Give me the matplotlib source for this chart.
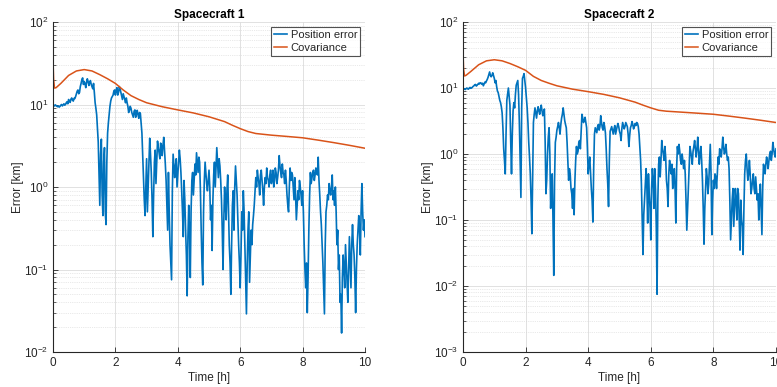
import numpy as np
import matplotlib
matplotlib.use("Agg")
import matplotlib.pyplot as plt
from matplotlib.ticker import LogLocator, NullFormatter, MultipleLocator

plt.rcParams['font.family'] = ['Liberation Sans', 'DejaVu Sans']
plt.rcParams['mathtext.fontset'] = 'custom'
plt.rcParams['mathtext.rm'] = 'Liberation Sans'
plt.rcParams['mathtext.it'] = 'Liberation Sans:italic'
plt.rcParams['mathtext.bf'] = 'Liberation Sans:bold'

# ---------------- data ----------------
# samples every 0.025 h: "grid" values at even samples, "mid" values in between
time_h = [round(0.025 * i, 3) for i in range(401)]

sc1_err_grid = [
    10.0, 9.6, 9.7, 9.4, 9.3, 9.8, 9.6, 10.2, 10.0, 10.8,
    11.5, 10.6, 12.0, 11.0, 11.8, 13.5, 15.0, 14.0, 18.0, 21.0,
    19.0, 16.0, 20.5, 17.0, 19.5, 16.5, 18.0, 10.5, 7.5, 3.5,
    0.6, 3.8, 0.45, 3.0, 0.35, 4.5, 7.5, 11.0, 12.5, 14.5,
    13.0, 16.0, 14.0, 15.5, 12.5, 13.5, 11.5, 12.0, 9.5, 8.5,
    9.0, 7.5, 8.3, 7.0, 8.5, 6.8, 7.8, 4.5, 1.3, 0.45,
    2.2, 1.0, 3.9, 1.5, 0.25, 2.0, 1.1, 3.6, 2.6, 3.4,
    2.4, 4.0, 1.9, 0.6, 1.5, 0.2, 0.075, 2.5, 1.3, 2.2,
    1.4, 2.8, 1.5, 0.5, 1.2, 0.3, 0.048, 0.6, 0.08, 1.2,
    0.8, 1.9, 2.6, 1.5, 2.0, 0.3, 0.065, 1.2, 1.5, 0.9,
    1.6, 0.4, 0.17, 1.4, 1.0, 3.0, 1.3, 1.8, 0.7, 0.1,
    1.0, 0.4, 1.4, 0.2, 0.05, 0.6, 0.3, 1.8, 0.8, 0.2,
    0.06, 0.5, 0.9, 0.2, 0.029, 0.3, 0.07, 0.3, 0.35, 0.6,
    1.3, 1.6, 1.1, 1.4, 1.2, 0.6, 1.3, 1.7, 1.2, 1.4,
    1.1, 1.6, 1.2, 1.5, 1.3, 2.4, 1.5, 1.9, 1.4, 1.6,
    0.8, 0.5, 1.7, 1.5, 1.0, 1.3, 0.4, 0.9, 1.2, 0.8,
    0.9, 0.2, 0.06, 0.03, 0.3, 1.5, 1.3, 1.6, 1.4, 1.5,
    2.3, 0.8, 0.35, 0.12, 0.029, 0.5, 0.8, 1.1, 0.8, 1.4,
    0.9, 1.0, 0.2, 0.1, 0.04, 0.017, 0.15, 0.06, 0.12, 0.04,
    0.25, 0.06, 0.35, 0.15, 0.03, 0.2, 0.45, 0.15, 1.1, 0.3,
    0.25,
]
sc1_err_mid = [
    9.8, 9.9, 9.5, 9.6, 9.5, 10.0, 9.9, 9.8, 10.5, 10.2,
    11.0, 11.6, 11.3, 11.9, 12.5, 14.5, 13.5, 16.5, 20.0, 17.5,
    18.0, 18.5, 19.0, 18.5, 17.5, 15.5, 14.0, 9.0, 5.0, 1.5,
    2.5, 0.8, 2.0, 0.5, 2.0, 6.0, 9.5, 12.0, 13.0, 15.0,
    15.0, 13.0, 16.5, 14.0, 11.5, 12.5, 10.5, 10.5, 8.0, 9.5,
    8.0, 7.0, 8.6, 7.8, 7.5, 8.0, 6.0, 2.5, 0.7, 1.0,
    0.5, 2.0, 2.5, 0.7, 0.8, 2.8, 2.0, 3.0, 2.2, 3.2,
    3.2, 2.8, 1.2, 0.3, 0.5, 0.12, 0.9, 1.8, 1.8, 1.0,
    1.9, 2.2, 0.9, 0.25, 0.7, 0.15, 0.25, 0.3, 0.5, 1.5,
    1.2, 1.4, 2.0, 2.3, 0.9, 0.12, 0.5, 2.0, 1.1, 1.2,
    1.0, 0.6, 0.7, 2.0, 1.8, 2.0, 2.2, 1.2, 0.3, 0.4,
    0.6, 0.9, 0.5, 0.12, 0.2, 0.9, 1.0, 1.2, 0.4, 0.12,
    0.15, 0.3, 0.5, 0.08, 0.12, 0.5, 0.15, 0.2, 0.45, 0.9,
    1.0, 1.3, 0.8, 1.6, 0.9, 1.0, 1.1, 1.3, 1.0, 1.6,
    1.3, 1.0, 1.7, 1.1, 1.6, 1.8, 1.3, 1.5, 1.1, 1.2,
    0.6, 1.0, 1.2, 1.4, 0.7, 0.8, 0.6, 0.7, 1.0, 0.6,
    0.5, 0.1, 0.12, 0.08, 0.8, 1.1, 1.5, 1.2, 1.7, 1.4,
    1.2, 0.5, 0.2, 0.06, 0.2, 0.6, 0.7, 0.9, 1.0, 0.7,
    0.6, 0.5, 0.3, 0.15, 0.05, 0.08, 0.1, 0.2, 0.07, 0.1,
    0.12, 0.2, 0.2, 0.08, 0.1, 0.3, 0.3, 0.5, 0.5, 0.4,
]

sc2_err_grid = [
    9.5, 9.6, 9.8, 9.7, 10.0, 9.9, 10.3, 10.8, 11.3, 11.0,
    11.8, 12.0, 11.4, 10.8, 12.3, 12.8, 14.5, 17.5, 14.8, 17.0,
    14.0, 13.0, 9.0, 7.5, 6.0, 4.2, 1.2, 0.5, 6.5, 10.0,
    5.5, 0.5, 4.5, 5.0, 11.0, 13.0, 3.0, 0.22, 14.0, 16.5,
    10.0, 5.0, 1.5, 0.5, 0.062, 3.0, 5.0, 3.5, 5.2, 4.0,
    5.5, 3.8, 4.8, 0.25, 1.0, 2.5, 0.15, 0.5, 0.0145, 1.5,
    2.3, 3.0, 2.0, 3.5, 5.0, 3.2, 2.5, 0.8, 0.6, 0.3,
    0.15, 0.12, 0.8, 1.0, 1.5, 1.2, 4.0, 3.0, 3.6, 2.5,
    0.5, 0.9, 0.3, 0.093, 2.0, 2.3, 2.6, 2.3, 3.8, 2.5,
    3.0, 2.1, 0.6, 0.16, 2.2, 2.6, 2.0, 2.7, 2.3, 2.9,
    2.2, 1.6, 3.0, 2.4, 3.0, 2.6, 1.3, 2.5, 3.1, 2.4,
    2.9, 3.0, 2.6, 1.3, 0.35, 0.03, 0.2, 0.6, 0.09, 0.25,
    0.05, 0.6, 0.15, 0.3, 0.0075, 0.7, 0.45, 1.6, 1.0, 1.3,
    0.4, 0.16, 0.8, 0.5, 0.3, 0.6, 0.09, 1.3, 1.4, 0.8,
    1.0, 0.6, 0.5, 0.07, 0.3, 1.3, 0.9, 1.1, 1.6, 0.9,
    1.8, 0.7, 1.3, 0.4, 0.043, 0.3, 0.45, 0.35, 1.4, 0.06,
    0.4, 0.5, 0.3, 0.9, 1.2, 0.9, 1.8, 1.0, 1.4, 0.8,
    0.6, 0.05, 0.2, 0.08, 0.3, 0.1, 0.25, 0.035, 0.1, 0.03,
    0.5, 1.0, 0.4, 0.8, 0.25, 0.4, 0.3, 0.45, 0.2, 0.1,
    0.35, 0.06, 0.7, 0.5, 0.9, 0.6, 1.0, 0.8, 1.5, 1.0,
    1.2,
]
sc2_err_mid = [
    9.8, 9.5, 10.0, 9.6, 10.2, 10.0, 10.6, 11.2, 10.7, 11.4,
    11.5, 11.9, 11.8, 11.5, 12.0, 13.5, 16.0, 15.5, 15.5, 15.5,
    12.0, 10.5, 8.5, 6.5, 5.2, 2.5, 0.8, 2.0, 8.0, 7.5,
    1.5, 2.0, 6.0, 8.0, 12.0, 8.0, 0.8, 5.0, 15.0, 13.0,
    7.0, 3.0, 0.9, 0.2, 0.5, 4.0, 4.2, 4.5, 4.5, 4.8,
    4.5, 4.2, 1.5, 0.4, 1.8, 1.0, 0.3, 0.1, 0.4, 1.8,
    2.6, 2.5, 2.8, 4.0, 4.0, 2.8, 1.5, 0.4, 0.5, 0.25,
    0.3, 0.4, 1.3, 1.1, 1.6, 2.2, 3.5, 3.2, 3.0, 1.2,
    0.7, 0.5, 0.2, 0.6, 2.5, 2.1, 2.8, 2.6, 3.0, 2.3,
    2.6, 1.2, 0.35, 0.8, 2.4, 2.3, 2.4, 2.0, 2.6, 2.6,
    2.0, 2.4, 2.7, 2.6, 2.8, 2.0, 1.9, 2.7, 2.8, 2.6,
    2.7, 2.9, 2.0, 0.8, 0.1, 0.12, 0.35, 0.3, 0.5, 0.15,
    0.3, 0.4, 0.6, 0.08, 0.2, 0.9, 0.8, 1.2, 0.8, 0.9,
    0.3, 0.5, 0.6, 0.7, 0.4, 0.3, 0.6, 1.0, 1.1, 0.7,
    0.8, 0.8, 0.2, 0.15, 0.6, 1.1, 0.7, 1.3, 1.2, 1.2,
    1.1, 1.0, 0.8, 0.15, 0.15, 0.6, 0.25, 0.7, 0.5, 0.2,
    0.3, 0.45, 0.5, 0.7, 1.0, 1.2, 1.3, 1.1, 1.0, 0.9,
    0.2, 0.1, 0.3, 0.15, 0.2, 0.3, 0.1, 0.2, 0.08, 0.15,
    0.8, 0.6, 0.5, 0.5, 0.3, 0.5, 0.25, 0.3, 0.25, 0.2,
    0.15, 0.3, 0.6, 0.7, 0.75, 0.8, 1.1, 1.0, 1.2, 0.9,
]

cov_time_h = [0.0, 0.02, 0.05, 0.1, 0.25, 0.5, 0.75, 1.0, 1.25, 1.5, 1.75,
              2.0, 2.25, 2.5, 2.75, 3.0, 3.5, 4.0, 4.5, 5.0, 5.5, 5.75,
              6.0, 6.25, 6.5, 7.0, 7.5, 8.0, 8.5, 9.0, 9.5, 10.0]
sc1_cov = [35.0, 20.0, 15.8, 16.0, 18.0, 22.5, 25.5, 26.5, 25.5, 23.0, 20.5,
           18.0, 15.0, 12.8, 11.5, 10.5, 9.4, 8.6, 7.9, 7.1, 6.2, 5.6,
           5.1, 4.7, 4.45, 4.25, 4.1, 3.95, 3.7, 3.45, 3.2, 2.95]
sc2_cov = [35.0, 19.0, 15.2, 15.6, 17.8, 22.5, 25.8, 26.8, 25.8, 23.5, 21.0,
           18.5, 15.0, 13.0, 11.8, 10.8, 9.6, 8.8, 8.0, 7.1, 6.1, 5.5,
           5.0, 4.6, 4.45, 4.3, 4.15, 4.0, 3.75, 3.5, 3.25, 3.0]

titles = ["Spacecraft 1", "Spacecraft 2"]
ylims = [(1e-2, 1e2), (1e-3, 1e2)]

BLUE = "#0072BD"
ORANGE = "#D95319"
TXT = "#262626"


def interleave(grid, mid):
    out = np.empty(len(grid) + len(mid))
    out[0::2] = grid
    out[1::2] = mid
    return out


fig = plt.figure(figsize=(7.77, 3.87), dpi=100)
W, H = 777, 387
rects = [
    (53 / W, 1 - 352 / H, 312 / W, 330 / H),
    (463 / W, 1 - 352 / H, 313 / W, 330 / H),
]

series = [(interleave(sc1_err_grid, sc1_err_mid), sc1_cov),
          (interleave(sc2_err_grid, sc2_err_mid), sc2_cov)]

for rect, (err, cov), title, yl in zip(rects, series, titles, ylims):
    ax = fig.add_axes(rect)
    ax.set_yscale('log')
    ax.plot(time_h, err, color=BLUE, lw=1.2, label='Position error')
    ax.plot(cov_time_h, cov, color=ORANGE, lw=1.1, label='Covariance')
    ax.set_xlim(0, 10)
    ax.set_ylim(*yl)
    ax.xaxis.set_major_locator(MultipleLocator(2))
    ax.yaxis.set_major_locator(LogLocator(base=10, numticks=10))
    ax.yaxis.set_minor_locator(LogLocator(base=10, subs=np.arange(2, 10), numticks=20))
    ax.yaxis.set_minor_formatter(NullFormatter())
    ax.grid(True, which='major', color='#dcdcdc', lw=0.6, ls='-')
    ax.grid(True, which='minor', axis='y', color='#d4d4d4', lw=0.5, ls=':')
    ax.set_axisbelow(True)
    for s in ['top', 'right']:
        ax.spines[s].set_visible(False)
    for s in ['left', 'bottom']:
        ax.spines[s].set_color(TXT)
        ax.spines[s].set_linewidth(0.8)
    ax.tick_params(which='both', direction='in', colors=TXT, labelsize=8.5,
                   top=False, right=False)
    ax.tick_params(which='major', length=3.5, width=0.6)
    ax.tick_params(which='minor', length=2, width=0.5)
    ax.set_title(title, fontsize=8.5, fontweight='bold', color='black', pad=3)
    ax.set_xlabel('Time [h]', fontsize=8.5, color=TXT, labelpad=2)
    ax.set_ylabel('Error [km]', fontsize=8.5, color=TXT, labelpad=0)
    leg = ax.legend(loc='upper right', fontsize=8, frameon=True, fancybox=False,
                    handlelength=1.2, handletextpad=0.3, borderpad=0.25,
                    labelspacing=0.3, borderaxespad=0.45)
    leg.get_frame().set_edgecolor(TXT)
    leg.get_frame().set_linewidth(0.8)
    for t in leg.get_texts():
        t.set_color(TXT)

fig.savefig('out.png', dpi=100)
